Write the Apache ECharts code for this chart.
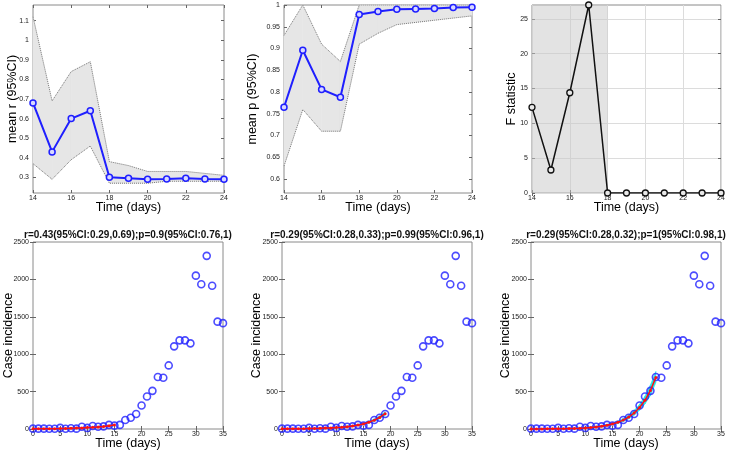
<!DOCTYPE html>
<html><head><meta charset="utf-8">
<script src="https://cdn.jsdelivr.net/npm/echarts@6/dist/echarts.min.js"></script>
<style>html,body{margin:0;padding:0;background:#fff}#c{width:730px;height:452px}</style>
</head><body><div id="c"></div>
<script>
// ---- data ----
const topDays = [14,15,16,17,18,19,20,21,22,23,24];
const rMean  = [0.68,0.43,0.60,0.64,0.30,0.295,0.29,0.292,0.295,0.292,0.29];
const rUpper = [1.12,0.69,0.84,0.89,0.38,0.36,0.33,0.33,0.33,0.32,0.31];
const rLower = [0.37,0.29,0.39,0.46,0.27,0.27,0.27,0.28,0.28,0.28,0.28];
const pMean  = [0.765,0.896,0.806,0.788,0.978,0.985,0.99,0.991,0.992,0.994,0.995];
const pUpper = [0.93,1.0,0.91,0.87,1,1,1,1,1,1,1];
const pLower = [0.63,0.76,0.71,0.71,0.91,0.935,0.955,0.96,0.965,0.97,0.975];
const fStat  = [12.3,3.3,14.4,27,0,0,0,0,0,0,0];
const shadeRange = [14,18];

const caseDays = [0,1,2,3,4,5,6,7,8,9,10,11,12,13,14,15,16,17,18,19,20,21,22,23,24,25,26,27,28,29,30,31,32,33,34,35];
const cases = [5,5,5,3,3,15,3,10,5,30,15,40,30,35,55,45,55,120,150,200,315,435,510,695,685,850,1105,1185,1185,1145,2050,1935,2315,1915,1435,1415];

const fitL      = [2,2,3,4,5,6,8,10,12,15,19,23,28,34,42,52];
const bandLUp   = [4,4,5,6,7,8,10,12,15,18,22,27,33,40,49,60];
const bandLLow  = [0,0,1,2,3,4,6,8,9,12,16,19,23,28,35,44];
const fitM      = [2,2,3,4,5,6,7,9,12,15,19,24,31,40,52,68,90,118,155,205];
const bandMUp   = [4,4,5,6,7,8,10,12,15,19,24,30,38,48,62,80,104,135,176,230];
const bandMLow  = [0,0,1,2,3,4,5,7,9,11,15,19,25,33,43,57,77,102,136,182];
const fitR      = [1,1,1,2,3,3,5,6,8,11,15,20,27,37,49,66,89,119,160,214,287,384,515,690];
const bandRUp   = [3,3,4,5,6,7,9,11,14,18,23,29,37,48,62,81,107,141,187,248,330,440,590,770];
const bandRLow  = [0,0,0,0,1,1,2,3,4,6,9,13,19,27,38,53,73,100,136,184,250,335,448,620];

const rTicks = [0.3,0.4,0.5,0.6,0.7,0.8,0.9,1,1.1];
const pTicks = [0.6,0.65,0.7,0.75,0.8,0.85,0.9,0.95,1];
const fTicks = [0,5,10,15,20,25];
const titlesTxt = ['r=0.43(95%CI:0.29,0.69);p=0.9(95%CI:0.76,1)',
                   'r=0.29(95%CI:0.28,0.33);p=0.99(95%CI:0.96,1)',
                   'r=0.29(95%CI:0.28,0.32);p=1(95%CI:0.98,1)'];

// ---- build ----
const FONT = '"Liberation Sans", Arial, Helvetica, sans-serif';
const grids = [], xAxes = [], yAxes = [], series = [], graphics = [];
const BLUE = '#1f1fff';

function pairs(xs, ys){ return ys.map((v,i)=>[xs[i], v]); }

function mkAxis(gi, c, isX, primary, name, gap){
  return {
    type:'value', gridIndex:gi, min:c.min, max:c.max, interval:c.interval,
    position: isX ? (primary?'bottom':'top') : (primary?'left':'right'),
    axisLine:{show:false},
    axisTick:{show:true, inside:true, length:3, lineStyle:{color:'#666'}, customValues:c.ticks},
    axisLabel:{show:primary, customValues:c.ticks, fontSize:7, color:'#222', fontFamily:FONT, margin: isX ? 1.5 : 4,
               formatter:v=>String(v)},
    splitLine:{show: !!c.split && primary, lineStyle:{color:'#dcdcdc'}},
    name: primary?name:'', nameLocation:'middle', nameGap:gap, nameMoveOverlap:false,
    nameTextStyle:{fontSize:12.5, color:'#000', fontFamily:FONT}
  };
}

function addPanel(g, xc, yc, xName, yName, yGap){
  const gi = grids.length;
  grids.push(Object.assign({show:true, borderColor:'#8a8a8a', borderWidth:1, backgroundColor:'#fff'}, g));
  xAxes.push(mkAxis(gi, xc, true, true, xName, 8));
  xAxes.push(mkAxis(gi, xc, true, false, '', 0));
  yAxes.push(mkAxis(gi, yc, false, true, yName, yGap));
  yAxes.push(mkAxis(gi, yc, false, false, '', 0));
  return {xAxisIndex:2*gi, yAxisIndex:2*gi};
}

function band(ax, xs, lo, up, color, withLines){
  const segs = [];
  for (let i = 0; i < xs.length - 1; i++) segs.push([xs[i], lo[i], up[i], xs[i+1], lo[i+1], up[i+1]]);
  series.push(Object.assign({type:'custom', data:segs, silent:true, z:1,
    encode:{x:[0,3], y:[1,2,4,5]},
    renderItem:(params, api)=>{
      const pts = [api.coord([api.value(0), api.value(1)]), api.coord([api.value(3), api.value(4)]),
                   api.coord([api.value(3), api.value(5)]), api.coord([api.value(0), api.value(2)])];
      return {type:'polygon', shape:{points:pts}, style:{fill:color, stroke:color, lineWidth:0.6}};
    }}, ax));
  if (withLines){
    [lo, up].forEach(arr=>series.push(Object.assign({type:'line', data:pairs(xs, arr), symbol:'none',
      lineStyle:{color:'#7a7a7a', width:1, type:'dotted'}, silent:true, z:2}, ax)));
  }
}

const xTop = {min:14, max:24, interval:2};
const H1 = 188, T1 = 5;

// top-left: mean r
let ax = addPanel({left:33, top:T1, width:191, height:H1}, xTop, {min:0.22, max:1.18, ticks:rTicks}, 'Time (days)', 'mean r (95%CI)', 14);
band(ax, topDays, rLower, rUpper, '#e6e6e6', true);
series.push(Object.assign({type:'line', data:pairs(topDays, rMean), symbol:'circle', symbolSize:6,
  itemStyle:{color:'#d8d8ff', borderColor:BLUE, borderWidth:1.5}, lineStyle:{color:BLUE, width:2}, z:5}, ax));

// top-middle: mean p
ax = addPanel({left:284, top:T1, width:188, height:H1}, xTop, {min:0.568, max:1.0, ticks:pTicks}, 'Time (days)', 'mean p (95%CI)', 25);
band(ax, topDays, pLower, pUpper, '#e6e6e6', true);
series.push(Object.assign({type:'line', data:pairs(topDays, pMean), symbol:'circle', symbolSize:6,
  itemStyle:{color:'#d8d8ff', borderColor:BLUE, borderWidth:1.5}, lineStyle:{color:BLUE, width:2}, z:5}, ax));

// top-right: F statistic
ax = addPanel({left:532, top:T1, width:189, height:H1}, Object.assign({split:true}, xTop), {min:0, max:27, interval:5, ticks:fTicks, split:true}, 'Time (days)', 'F statistic', 14);
series.push(Object.assign({type:'line', data:[], silent:true, z:1,
  markArea:{silent:true, itemStyle:{color:'rgba(200,200,200,0.5)'}, data:[[{xAxis:shadeRange[0]},{xAxis:shadeRange[1]}]]}}, ax));
series.push(Object.assign({type:'line', data:pairs(topDays, fStat), symbol:'circle', symbolSize:6,
  itemStyle:{color:'#e8e8e8', borderColor:'#111', borderWidth:1.3}, lineStyle:{color:'#111', width:1.5}, z:5}, ax));

// bottom panels
const xB = {min:0, max:35, interval:5};
const yB = {min:0, max:2500, interval:500};
const T2 = 242, H2 = 187;
const bottoms = [
  {left:33, fit:fitL, up:bandLUp, lo:bandLLow, gap:18},
  {left:282, fit:fitM, up:bandMUp, lo:bandMLow, gap:19},
  {left:531, fit:fitR, up:bandRUp, lo:bandRLow, gap:19}
];
bottoms.forEach((b, k)=>{
  const a = addPanel({left:b.left, top:T2, width:190, height:H2}, xB, yB, 'Time (days)', 'Case incidence', b.gap);
  const fd = caseDays.slice(0, b.fit.length);
  band(a, fd, b.lo, b.up, '#22e6e6', false);
  series.push(Object.assign({type:'scatter', data:pairs(caseDays, cases), symbol:'circle', symbolSize:7,
    itemStyle:{color:'rgba(255,255,255,0)', borderColor:BLUE, borderWidth:1.6}, z:4}, a));
  series.push(Object.assign({type:'line', data:pairs(fd, b.fit), symbol:'circle', symbolSize:3, showSymbol:true,
    itemStyle:{color:'#ff1010', borderWidth:0}, lineStyle:{color:'#ff1010', width:1.5}, z:6}, a));
  graphics.push({type:'text', x:b.left+95, y:235, style:{text:titlesTxt[k], align:'center', verticalAlign:'middle',
    font:'bold 10px ' + FONT, fill:'#111'}});
});

const chart = echarts.init(document.getElementById('c'), null, {renderer:'canvas'});
chart.setOption({
  animation:false, backgroundColor:'#fff',
  grid:grids, xAxis:xAxes, yAxis:yAxes, series:series, graphic:graphics
});
</script></body></html>
